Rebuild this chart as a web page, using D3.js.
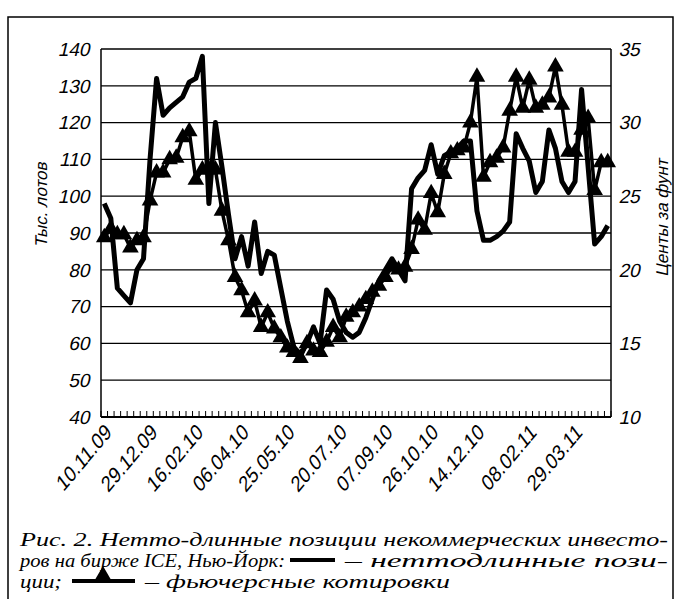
<!DOCTYPE html>
<html>
<head>
<meta charset="utf-8">
<script src="https://cdn.jsdelivr.net/npm/d3@7"></script>
<style>
  body { margin: 0; background: #fff; }
  svg { display: block; }
  .num { font-family: "Liberation Sans", Arial, sans-serif; fill: #000; }
  .cap { font-family: "Liberation Serif", "Times New Roman", serif; font-style: italic; fill: #000; }
</style>
</head>
<body>
<svg id="chart" width="681" height="599"></svg>
<script>
// net long positions, thousand lots (left axis)
let netLong = [98, 94, 75, 73, 71, 80, 83, 110, 132, 122,
  124, 125.5, 127, 131, 132, 138, 98, 120, 108, 95,
  83, 89, 81, 93, 79, 85, 84, 75, 66, 59,
  57, 60, 64.5, 60, 74.5, 72, 66, 63, 61.7, 63,
  67, 72, 77, 80, 83, 80, 77, 102, 105, 107,
  114, 106, 111, 112, 113, 115, 115, 96, 88, 88,
  89, 90.5, 93, 117, 113, 109.5, 101, 104, 118, 113,
  104, 101, 104, 129, 108, 87, 89, 92];
// futures quotes, cents per pound (right axis)
let futures = [22.2, 22.8, 22.4, 22.4, 21.5, 22, 22.2, 24.7, 26.6, 26.6,
  27.5, 27.6, 29, 29.4, 26.1, 26.8, 26.8, 26.8, 24, 22,
  19.5, 18.6, 17.1, 17.9, 16.1, 17.1, 16, 15.4, 14.7, 14.4,
  14, 15, 14.5, 14.4, 15.1, 16.1, 15.4, 16.8, 17.1, 17.5,
  18, 18.5, 18.9, 19.5, 20.2, 20, 20.2, 21.4, 23.4, 22.7,
  25.2, 23.9, 26.5, 27.9, 28.1, 28.3, 30, 33.1, 26.3, 27.3,
  27.6, 28.3, 30.8, 33.1, 31, 32.9, 31, 31.2, 31.7, 33.8,
  31.2, 28, 28, 29.5, 30.3, 25.4, 27.3, 27.3];
let tickLabels = ["10.11.09", "29.12.09", "16.02.10", "06.04.10", "25.05.10", "20.07.10",
  "07.09.10", "26.10.10", "14.12.10", "08.02.11", "29.03.11"];
let tickIndex = [0, 7, 14, 21, 28, 36, 43, 50, 57, 65, 72];
let leftTicks = [40, 50, 60, 70, 80, 90, 100, 110, 120, 130, 140];
let rightTicks = [10, 15, 20, 25, 30, 35];

let svg = d3.select("#chart");
let plotL = 101, plotR = 611, plotT = 49, plotB = 417;
let slant = " skewX(-13)";

let xBand = d3.scaleBand().domain(d3.range(netLong.length)).range([plotL, plotR]);
let xc = i => xBand(i) + xBand.bandwidth() / 2;
let yL = d3.scaleLinear().domain([40, 140]).range([plotB, plotT]);
let yR = d3.scaleLinear().domain([10, 35]).range([plotB, plotT]);

// outer frame
svg.append("path")
  .attr("d", "M8,599 V17 H673 V599")
  .attr("fill", "none").attr("stroke", "#000").attr("stroke-width", 1.5);

// gridlines
svg.append("g").selectAll("line").data(leftTicks).enter().append("line")
  .attr("x1", plotL).attr("x2", plotR)
  .attr("y1", d => yL(d)).attr("y2", d => yL(d))
  .attr("stroke", "#000").attr("stroke-width", 1.3);

// plot box sides
svg.append("line").attr("x1", plotL).attr("x2", plotL).attr("y1", plotT).attr("y2", plotB)
  .attr("stroke", "#000").attr("stroke-width", 1.5);
svg.append("line").attr("x1", plotR).attr("x2", plotR).attr("y1", plotT).attr("y2", plotB)
  .attr("stroke", "#000").attr("stroke-width", 1.5);
svg.append("line").attr("x1", plotL).attr("x2", plotR).attr("y1", plotB).attr("y2", plotB)
  .attr("stroke", "#000").attr("stroke-width", 2);

// category ticks (inside, pointing up)
svg.append("g").selectAll("line").data(d3.range(netLong.length + 1)).enter().append("line")
  .attr("x1", d => plotL + d * xBand.step()).attr("x2", d => plotL + d * xBand.step())
  .attr("y1", plotB).attr("y2", plotB - 6)
  .attr("stroke", "#000").attr("stroke-width", 1);

// left axis labels
svg.append("g").selectAll("text").data(leftTicks).enter().append("text")
  .attr("class", "num")
  .attr("transform", d => "translate(91," + yL(d) + ")" + slant)
  .attr("dy", "0.36em")
  .attr("text-anchor", "end").attr("font-size", 19)
  .text(d => d);

// right axis labels
svg.append("g").selectAll("text").data(rightTicks).enter().append("text")
  .attr("class", "num")
  .attr("transform", d => "translate(620," + yR(d) + ")" + slant)
  .attr("dy", "0.36em")
  .attr("text-anchor", "start").attr("font-size", 19)
  .text(d => d);

// axis titles
svg.append("text").attr("class", "num")
  .attr("transform", "translate(47,205) rotate(-90)" + slant)
  .attr("text-anchor", "middle").attr("font-size", 17)
  .text("Тыс. лотов");
svg.append("text").attr("class", "num")
  .attr("transform", "translate(668,218) rotate(-90)" + slant)
  .attr("text-anchor", "middle").attr("font-size", 17)
  .text("Центы за фунт");

// date labels
svg.append("g").selectAll("text").data(tickIndex).enter().append("text")
  .attr("class", "num")
  .attr("transform", d => "translate(" + (xc(d) + 4) + ",428) rotate(-50)" + slant)
  .attr("text-anchor", "end").attr("dy", "0.35em").attr("font-size", 20)
  .text((d, i) => tickLabels[i]);

// series lines
let lineL = d3.line().x((d, i) => xc(i)).y(d => yL(d));
let lineR = d3.line().x((d, i) => xc(i)).y(d => yR(d));

svg.append("path").datum(futures)
  .attr("d", lineR).attr("fill", "none")
  .attr("stroke", "#000").attr("stroke-width", 3.5).attr("stroke-linejoin", "round");

svg.append("g").selectAll("path").data(futures).enter().append("path")
  .attr("transform", (d, i) => "translate(" + xc(i) + "," + yR(d) + ")")
  .attr("d", d3.symbol().type(d3.symbolTriangle).size(120))
  .attr("fill", "#000");

svg.append("path").datum(netLong)
  .attr("d", lineL).attr("fill", "none")
  .attr("stroke", "#000").attr("stroke-width", 5).attr("stroke-linejoin", "round");

// caption
let cap = svg.append("g");
cap.append("text").attr("class", "cap").attr("x", 20).attr("y", 546)
  .attr("font-size", 19).attr("textLength", 648).attr("lengthAdjust", "spacingAndGlyphs")
  .text("Рис. 2.  Нетто-длинные позиции некоммерческих инвесто-");
cap.append("text").attr("class", "cap").attr("x", 20).attr("y", 567)
  .attr("font-size", 19).attr("textLength", 265).attr("lengthAdjust", "spacingAndGlyphs")
  .text("ров на бирже ICE, Нью-Йорк:");
cap.append("line").attr("x1", 290).attr("x2", 335).attr("y1", 560).attr("y2", 560)
  .attr("stroke", "#000").attr("stroke-width", 4);
cap.append("text").attr("class", "cap").attr("x", 345).attr("y", 567)
  .attr("font-size", 19).attr("textLength", 323).attr("lengthAdjust", "spacingAndGlyphs")
  .text("– неттодлинные пози-");
cap.append("text").attr("class", "cap").attr("x", 20).attr("y", 588)
  .attr("font-size", 19).attr("textLength", 42).attr("lengthAdjust", "spacingAndGlyphs")
  .text("ции;");
cap.append("line").attr("x1", 72).attr("x2", 135).attr("y1", 581).attr("y2", 581)
  .attr("stroke", "#000").attr("stroke-width", 4);
cap.append("path").attr("transform", "translate(103,577)")
  .attr("d", d3.symbol().type(d3.symbolTriangle).size(160)).attr("fill", "#000");
cap.append("text").attr("class", "cap").attr("x", 145).attr("y", 588)
  .attr("font-size", 19).attr("textLength", 305).attr("lengthAdjust", "spacingAndGlyphs")
  .text("– фьючерсные котировки");
</script>
</body>
</html>
